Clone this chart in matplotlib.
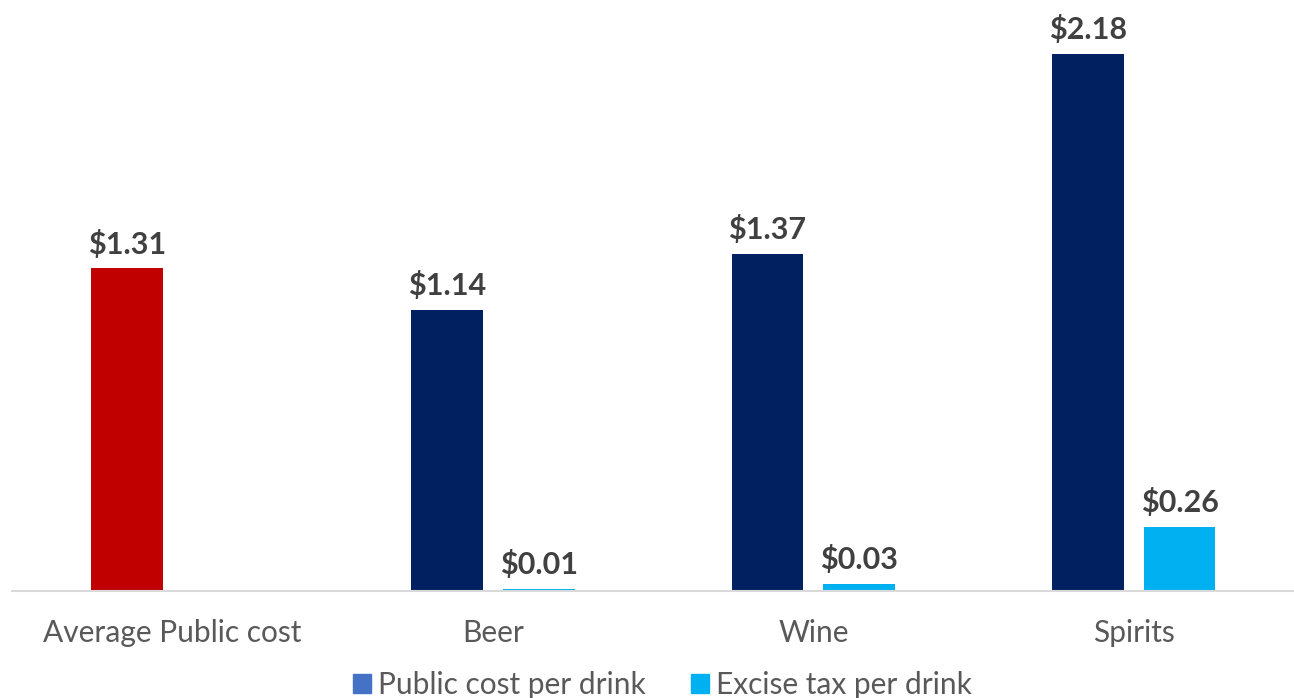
import matplotlib
matplotlib.use("Agg")
import matplotlib.pyplot as plt
from matplotlib.patches import Patch
import numpy as np

categories = ["Average Public cost", "Beer", "Wine", "Spirits"]
public_cost = [1.31, 1.14, 1.37, 2.18]
excise_tax = [np.nan, 0.01, 0.03, 0.26]
series_names = ["Public cost per drink", "Excise tax per drink"]

NAVY = "#002060"
RED = "#C00000"
CYAN = "#00B0F0"
LEGEND_BLUE = "#4472C4"

plt.rcParams['font.family'] = ['Lato', 'DejaVu Sans']

fig = plt.figure(figsize=(12.94, 6.98), dpi=100)
ax = fig.add_axes([0.0095, 107 / 698, 0.9905, (591 - 10) / 698])

x = np.arange(len(categories))
w = 0.224
off = 0.143
pc_colors = [RED] + [NAVY] * (len(categories) - 1)
ax.bar(x - off, public_cost, width=w, color=pc_colors, zorder=2)
ax.bar(x + off, excise_tax, width=w, color=CYAN, zorder=2)

for xi, v in zip(x - off, public_cost):
    ax.annotate(f"${v:.2f}", (xi, v), xytext=(0, 7), textcoords="offset points",
                ha="center", va="bottom", fontsize=22, fontweight="bold", color="#404040")
for xi, v in zip(x + off, excise_tax):
    if not np.isnan(v):
        ax.annotate(f"${v:.2f}", (xi, v), xytext=(0, 7), textcoords="offset points",
                    ha="center", va="bottom", fontsize=22, fontweight="bold", color="#404040")

ax.set_xlim(-0.5, 3.5)
ax.set_ylim(0, (591 - 10) / 246.3)
ax.set_xticks(x)
ax.set_xticklabels(categories, fontsize=21.5, color="#595959")
ax.tick_params(axis="x", length=0, pad=20)
ax.set_yticks([])
for s in ["top", "right", "left"]:
    ax.spines[s].set_visible(False)
ax.spines["bottom"].set_color("#D9D9D9")
ax.spines["bottom"].set_linewidth(1.5)

handles = [Patch(color=LEGEND_BLUE), Patch(color=CYAN)]
fig.legend(handles, series_names, loc="center", bbox_to_anchor=(0.512, 0.018),
           ncol=2, frameon=False, fontsize=21.5, labelcolor="#595959",
           handlelength=0.6, handleheight=0.6, handletextpad=0.25, columnspacing=1.5)

fig.savefig("out.png", dpi=100)
